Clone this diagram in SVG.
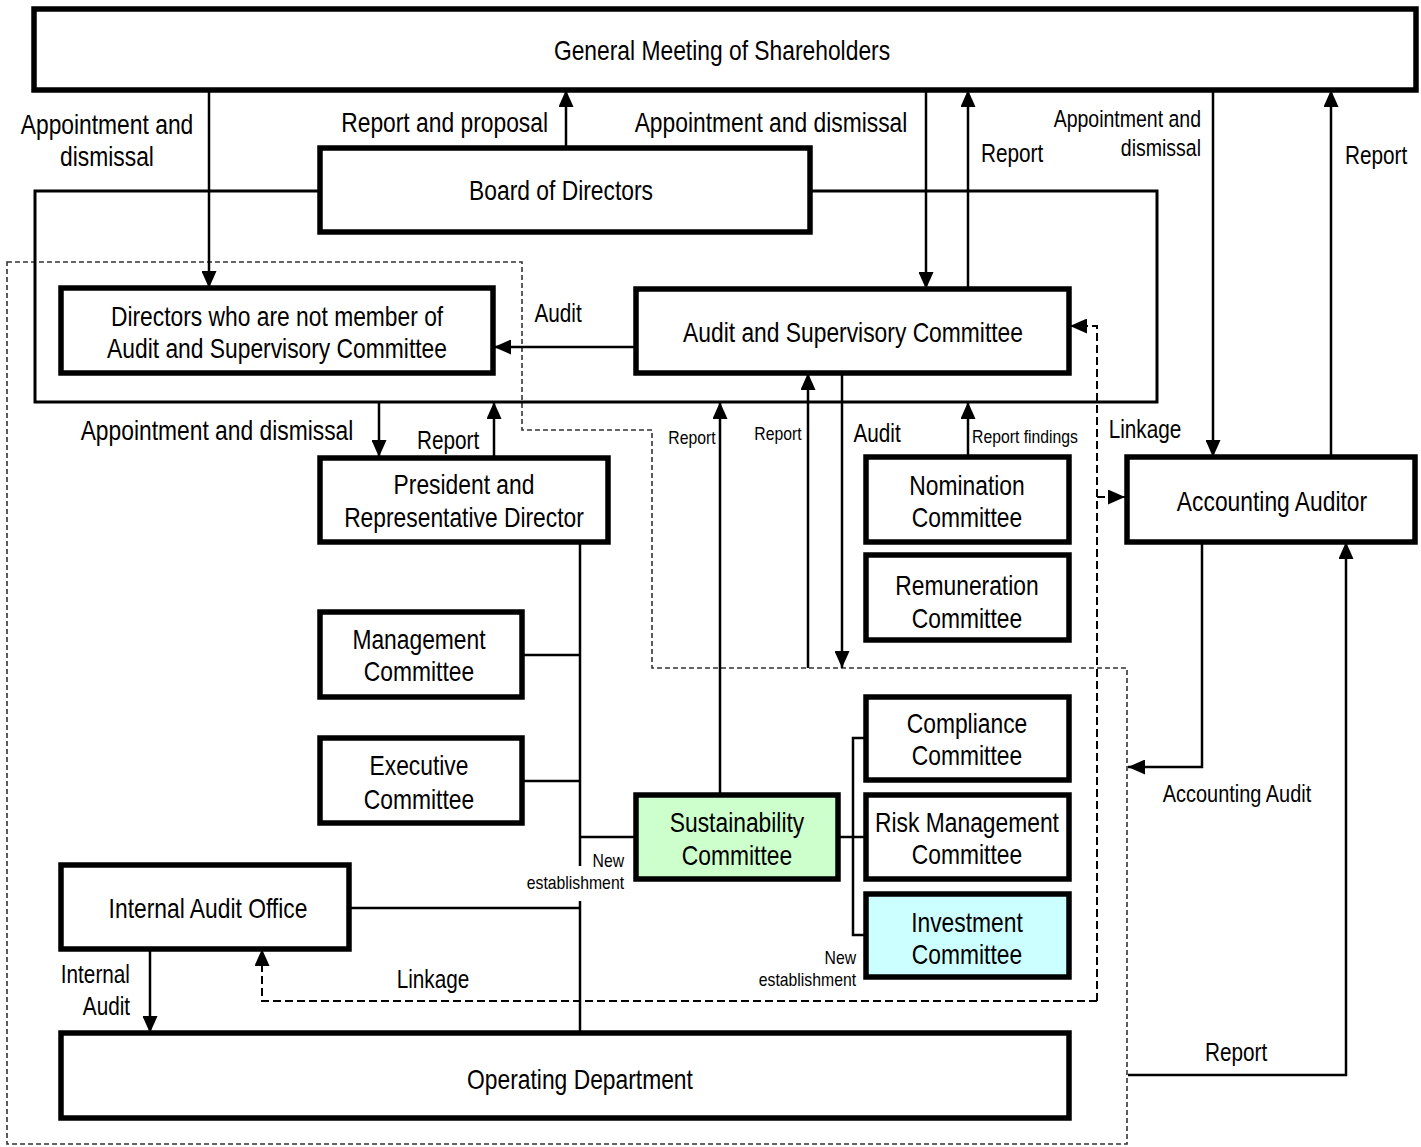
<svg xmlns="http://www.w3.org/2000/svg" width="1421" height="1147" viewBox="0 0 1421 1147">
<style>
text{font-family:"Liberation Sans",Arial,sans-serif;fill:#000;text-anchor:middle;transform:scaleX(0.83);transform-box:fill-box;transform-origin:center}
.t{font-size:27.5px}
.m{font-size:25px}
.m2{font-size:24px}
.s{font-size:19px}
.r{text-anchor:end;transform-origin:right}
.st{text-anchor:start;transform-origin:left}
.box{fill:#fff;stroke:#000;stroke-width:5.5}
.ln{fill:none;stroke:#000;stroke-width:2.5}
.fr{fill:none;stroke:#000;stroke-width:3}
.dl{fill:none;stroke:#000;stroke-width:2;stroke-dasharray:8 4}
.rg{fill:none;stroke:#333;stroke-width:1.6;stroke-dasharray:5 3}
</style>
<defs>
<marker id="a" viewBox="0 0 17 15" refX="17" refY="7.5" markerWidth="17" markerHeight="15" markerUnits="userSpaceOnUse" orient="auto"><path d="M0,0 L17,7.5 L0,15 Z" fill="#000"/></marker>
</defs>
<rect width="1421" height="1147" fill="#fff"/>
<polygon id="executive-region" class="rg" points="7,262 522,262 522,430 652,430 652,668 1127,668 1127,1144 7,1144"/>
<g id="connectors">
<polyline class="fr" points="319,191 35,191 35,402 1157,402 1157,191 810,191"/>
<line class="ln" x1="209" y1="90" x2="209" y2="288" marker-end="url(#a)"/>
<line class="ln" x1="566" y1="148" x2="566" y2="90" marker-end="url(#a)"/>
<line class="ln" x1="926" y1="90" x2="926" y2="289" marker-end="url(#a)"/>
<line class="ln" x1="968" y1="289" x2="968" y2="90" marker-end="url(#a)"/>
<line class="ln" x1="1213" y1="90" x2="1213" y2="457" marker-end="url(#a)"/>
<line class="ln" x1="1331" y1="457" x2="1331" y2="90" marker-end="url(#a)"/>
<line class="ln" x1="636" y1="347" x2="494" y2="347" marker-end="url(#a)"/>
<line class="ln" x1="379" y1="402" x2="379" y2="457" marker-end="url(#a)"/>
<line class="ln" x1="494" y1="457" x2="494" y2="402" marker-end="url(#a)"/>
<line class="ln" x1="580" y1="542" x2="580" y2="866"/>
<line class="ln" x1="580" y1="901" x2="580" y2="1033"/>
<line class="ln" x1="522" y1="655" x2="580" y2="655"/>
<line class="ln" x1="522" y1="781" x2="580" y2="781"/>
<line class="ln" x1="580" y1="837" x2="636" y2="837"/>
<line class="ln" x1="350" y1="908" x2="580" y2="908"/>
<line class="ln" x1="720" y1="794" x2="720" y2="402" marker-end="url(#a)"/>
<line class="ln" x1="808" y1="668" x2="808" y2="373" marker-end="url(#a)"/>
<line class="ln" x1="842" y1="373" x2="842" y2="668" marker-end="url(#a)"/>
<line class="ln" x1="968" y1="457" x2="968" y2="402" marker-end="url(#a)"/>
<line class="ln" x1="838" y1="837" x2="866" y2="837"/>
<polyline class="ln" points="866,738 853,738 853,935 866,935"/>
<polyline class="ln" points="1202,542 1202,767 1128,767" marker-end="url(#a)"/>
<polyline class="ln" points="1128,1075 1346,1075 1346,542" marker-end="url(#a)"/>
<line class="ln" x1="150" y1="949" x2="150" y2="1033" marker-end="url(#a)"/>
<polyline class="dl" points="1097,1001 1097,326 1070,326" marker-end="url(#a)"/>
<line class="dl" x1="1097" y1="497" x2="1125" y2="497" marker-end="url(#a)"/>
<polyline class="dl" points="1097,1001 262,1001 262,949" marker-end="url(#a)"/>
</g>
<g id="general-meeting"><rect class="box" x="34" y="9" width="1382" height="81"/><text class="t" x="722" y="60">General Meeting of Shareholders</text></g>
<g id="board"><rect class="box" x="320" y="148" width="490" height="84"/><text class="t" x="561" y="200">Board of Directors</text></g>
<g id="directors"><rect class="box" x="61" y="288" width="432" height="85"/><text class="t" x="277" y="326">Directors who are not member of</text><text class="t" x="277" y="358">Audit and Supervisory Committee</text></g>
<g id="audit-committee"><rect class="box" x="636" y="289" width="433" height="84"/><text class="t" x="853" y="342">Audit and Supervisory Committee</text></g>
<g id="president"><rect class="box" x="320" y="458" width="288" height="84"/><text class="t" x="464" y="494">President and</text><text class="t" x="464" y="527">Representative Director</text></g>
<g id="nomination"><rect class="box" x="866" y="457" width="203" height="85"/><text class="t" x="967" y="495">Nomination</text><text class="t" x="967" y="527">Committee</text></g>
<g id="remuneration"><rect class="box" x="866" y="555" width="203" height="85"/><text class="t" x="967" y="595">Remuneration</text><text class="t" x="967" y="628">Committee</text></g>
<g id="accounting-auditor"><rect class="box" x="1127" y="457" width="288" height="85"/><text class="t" x="1272" y="511">Accounting Auditor</text></g>
<g id="management"><rect class="box" x="320" y="612" width="202" height="85"/><text class="t" x="419" y="649">Management</text><text class="t" x="419" y="681">Committee</text></g>
<g id="executive"><rect class="box" x="320" y="738" width="202" height="85"/><text class="t" x="419" y="775">Executive</text><text class="t" x="419" y="809">Committee</text></g>
<g id="compliance"><rect class="box" x="866" y="697" width="203" height="83"/><text class="t" x="967" y="733">Compliance</text><text class="t" x="967" y="765">Committee</text></g>
<g id="sustainability"><rect class="box" x="636" y="795" width="202" height="84" style="fill:#ccffcc"/><text class="t" x="737" y="832">Sustainability</text><text class="t" x="737" y="865">Committee</text></g>
<g id="risk"><rect class="box" x="866" y="795" width="203" height="84"/><text class="t" x="967" y="832">Risk Management</text><text class="t" x="967" y="864">Committee</text></g>
<g id="investment"><rect class="box" x="866" y="894" width="203" height="83" style="fill:#ccffff"/><text class="t" x="967" y="932">Investment</text><text class="t" x="967" y="964">Committee</text></g>
<g id="internal-audit-office"><rect class="box" x="61" y="865" width="288" height="84"/><text class="t" x="208" y="918">Internal Audit Office</text></g>
<g id="operating"><rect class="box" x="61" y="1033" width="1008" height="85"/><text class="t" x="580" y="1089">Operating Department</text></g>
<g id="labels">
<text class="t" x="107" y="134">Appointment and</text>
<text class="t" x="107" y="166">dismissal</text>
<text class="t r" x="548" y="132">Report and proposal</text>
<text class="t" x="771" y="132">Appointment and dismissal</text>
<text class="m st" x="981" y="162">Report</text>
<text class="s r" x="1201" y="127" style="font-size:23.5px">Appointment and</text>
<text class="s r" x="1201" y="156" style="font-size:23.5px">dismissal</text>
<text class="m st" x="1345" y="164">Report</text>
<text class="m" x="558" y="322">Audit</text>
<text class="t" x="217" y="440">Appointment and dismissal</text>
<text class="m" x="448" y="449">Report</text>
<text class="s" x="692" y="444">Report</text>
<text class="s" x="778" y="440">Report</text>
<text class="m" x="877" y="442">Audit</text>
<text class="s" x="1025" y="443">Report findings</text>
<text class="m" x="1145" y="438">Linkage</text>
<text class="m2" x="1237" y="802">Accounting Audit</text>
<text class="s r" x="624" y="867">New</text>
<text class="s r" x="624" y="889">establishment</text>
<text class="s r" x="856" y="964">New</text>
<text class="s r" x="856" y="986">establishment</text>
<text class="m" x="433" y="988">Linkage</text>
<text class="m r" x="130" y="983">Internal</text>
<text class="m r" x="130" y="1015">Audit</text>
<text class="m" x="1236" y="1061">Report</text>
</g>
</svg>
